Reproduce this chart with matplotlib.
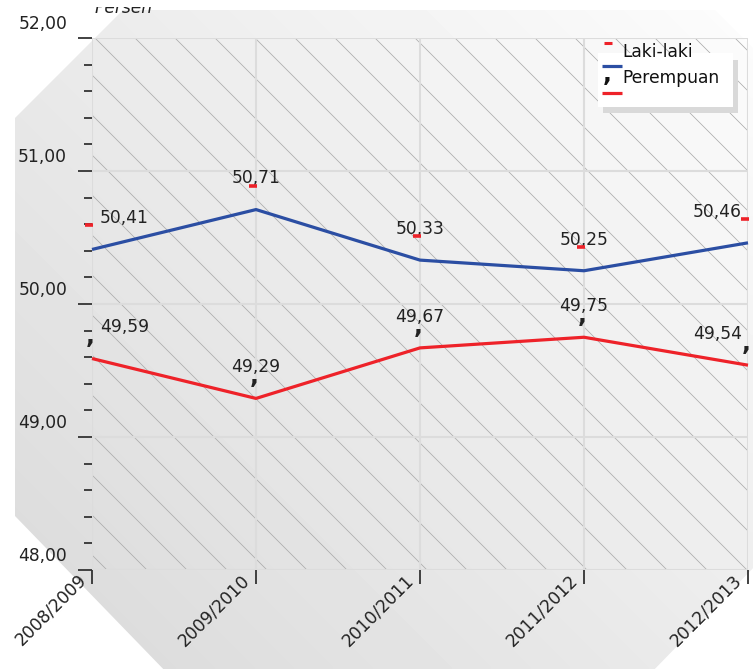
import numpy as np
import matplotlib
matplotlib.use("Agg")
import matplotlib.pyplot as plt
from matplotlib.patches import Polygon, Rectangle
from matplotlib.transforms import ScaledTranslation, Bbox
from matplotlib.lines import Line2D

# ---------------- data ----------------
years = ['2008/2009', '2009/2010', '2010/2011', '2011/2012', '2012/2013']
laki = [50.41, 50.71, 50.33, 50.25, 50.46]
perempuan = [49.59, 49.29, 49.67, 49.75, 49.54]
y_ticks = [48, 49, 50, 51, 52]
y_tick_labels = ['48,00', '49,00', '50,00', '51,00', '52,00']
series_names = ['Laki-laki', 'Perempuan']

BLUE = '#2b4ea3'
RED = '#ee2229'
W, H = 753, 669
FS = 12.3

fig = plt.figure(figsize=(W / 100, H / 100), dpi=100)

# ---------------- background (pixel coordinates, y down) ----------------
bg = fig.add_axes([0, 0, 1, 1], zorder=0)
bg.set_xlim(0, W)
bg.set_ylim(H, 0)
bg.axis('off')

poly_pts = [(15, 118), (123, 10), (715, 10), (760, 55), (760, 561),
            (648, 676), (170, 676), (15, 516)]
poly = Polygon(poly_pts, closed=True, facecolor='none', edgecolor='none')
bg.add_patch(poly)
xx, yy = np.meshgrid(np.linspace(0, W, 200), np.linspace(0, H, 200))
t = (xx + (H - yy)) / (W + H)
grad = 0.85 + 0.14 * t
im = bg.imshow(grad, cmap='gray', vmin=0, vmax=1, extent=(0, W, H, 0),
               interpolation='bilinear', aspect='auto')
im.set_clip_path(poly)
bg.set_xlim(0, W)
bg.set_ylim(H, 0)

# plot area in pixels
L, R, T, B = 92, 748, 38, 570

# ---------------- main axes ----------------
ax = fig.add_axes([L / W, 1 - B / H, (R - L) / W, (B - T) / H], zorder=2)
ax.patch.set_alpha(0)

# diagonal hatch lines (drawn in pixel coords, clipped to the plot area)
for c in np.arange(57 - 40 * 14, R - T + 40, 40):
    ln = Line2D([c + T - 10, c + B + 10], [T - 10, B + 10], color='#ababab',
                lw=0.55, transform=bg.transData)
    bg.add_line(ln)
    ln.set_clip_path(None)
    ln.set_clip_box(ax.bbox)
    ln.set_clip_on(True)

x = np.arange(len(years))
ax.set_xlim(0, len(years) - 1)
ax.set_ylim(48, 52)
for s in ax.spines.values():
    s.set_visible(False)
ax.set_axisbelow(True)
ax.grid(True, color='#dcdcdc', lw=1.5)

ax.set_yticks(y_ticks)
ax.set_yticklabels(y_tick_labels, fontsize=FS, color='#222222')
ax.set_yticks(np.arange(48, 52.001, 0.2), minor=True)
ax.tick_params(axis='y', which='major', length=10, width=1.3, color='#333333', pad=8)
ax.tick_params(axis='y', which='minor', length=6, width=1.3, color='#333333')
for lab in ax.get_yticklabels():
    lab.set_transform(lab.get_transform() + ScaledTranslation(0, 0.16, fig.dpi_scale_trans))

ax.set_xticks(x)
ax.set_xticklabels(years, fontsize=FS, rotation=45, ha='right', va='top',
                   rotation_mode='anchor', color='#222222')
ax.tick_params(axis='x', length=10, width=1.3, color='#333333', pad=0)
for lab in ax.get_xticklabels():
    lab.set_transform(lab.get_transform() + ScaledTranslation(-0.15, 0.13, fig.dpi_scale_trans))

ax.plot(x, laki, color=BLUE, lw=2.3, solid_capstyle='butt', zorder=5, clip_on=False)
ax.plot(x, perempuan, color=RED, lw=2.3, solid_capstyle='butt', zorder=5, clip_on=False)

n = len(years)
def lab_pos(i):
    if i == 0:
        return 'left', 8
    if i == n - 1:
        return 'right', -6
    return 'center', 0

for i in range(n):
    ha, dx = lab_pos(i)
    # Laki-laki labels
    v = laki[i]
    ax.annotate(f'{v:.2f}'.replace('.', ','), (x[i], v), xytext=(dx * 0.72, 22.5),
                textcoords='offset points', ha=ha, va='center', fontsize=FS,
                color='#222222', zorder=6, annotation_clip=False)
    ax.plot([x[i]], [v], marker='_', ms=6, mew=2.6, color=RED, ls='none',
            transform=ax.transData + ScaledTranslation(-0.03, 0.24, fig.dpi_scale_trans),
            clip_on=False, zorder=6)
    # Perempuan labels
    v = perempuan[i]
    ax.annotate(f'{v:.2f}'.replace('.', ','), (x[i], v), xytext=(dx * 0.72, 22.5),
                textcoords='offset points', ha=ha, va='center', fontsize=FS,
                color='#222222', zorder=6, annotation_clip=False)
    ax.annotate(',', (x[i], v), xytext=(-1, 11), textcoords='offset points',
                ha='center', va='baseline', fontsize=17, fontweight='bold',
                color='#222222', zorder=6, annotation_clip=False)

# ---------------- legend (pixel coordinates) ----------------
lg = fig.add_axes([0, 0, 1, 1], zorder=3)
lg.set_xlim(0, W)
lg.set_ylim(H, 0)
lg.axis('off')
lg.add_patch(Rectangle((603, 60), 135, 53, facecolor='#d9d9d9', edgecolor='none'))
lg.add_patch(Rectangle((598, 53), 135, 54, facecolor='white', edgecolor='none'))
lg.plot([604, 612], [43, 43], color=RED, lw=2.2, solid_capstyle='butt')
lg.text(622, 52, series_names[0], fontsize=FS, va='center', ha='left', color='#111111')
lg.plot([602, 622], [66, 66], color=BLUE, lw=2.3, solid_capstyle='butt')
lg.text(607, 81, ',', fontsize=17, fontweight='bold', va='baseline', ha='center', color='#111111')
lg.text(622, 78, series_names[1], fontsize=FS, va='center', ha='left', color='#111111')
lg.plot([602, 622], [93, 93], color=RED, lw=2.3, solid_capstyle='butt')

# y-axis title (cut at the top as in the reference)
tt = lg.text(95, 13, 'Persen', fontsize=FS, style='italic', va='baseline', ha='left',
             color='#222222')
tt.set_clip_box(Bbox([[0, 0], [W, H - 7]]))
tt.set_clip_on(True)

fig.savefig('out.png', dpi=100)
